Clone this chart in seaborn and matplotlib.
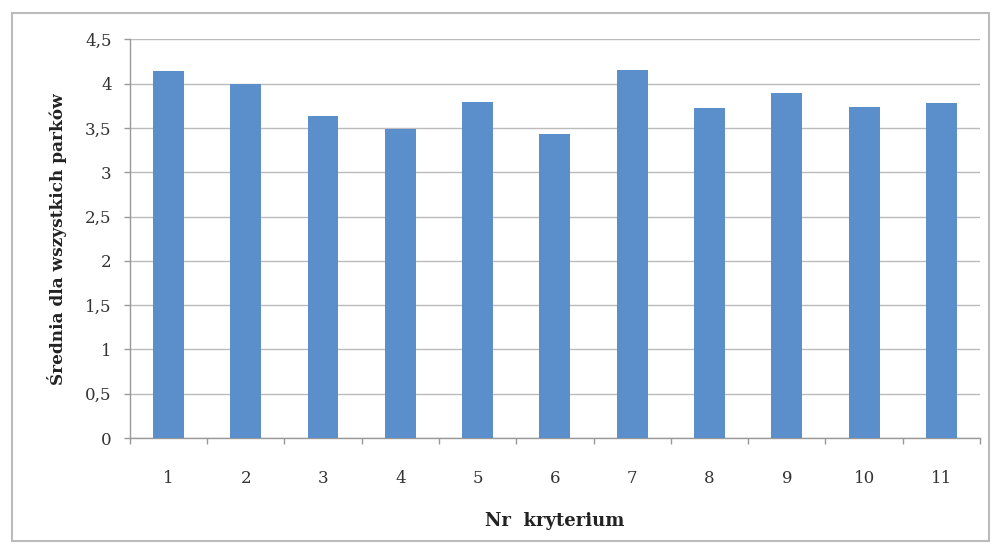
import matplotlib
matplotlib.use("Agg")
import matplotlib.pyplot as plt
import seaborn as sns
import pandas as pd
import numpy as np
from matplotlib.patches import Rectangle

categories = ["1", "2", "3", "4", "5", "6", "7", "8", "9", "10", "11"]
values = [4.14, 4.00, 3.63, 3.49, 3.79, 3.43, 4.15, 3.72, 3.90, 3.74, 3.78]
yticks = [0, 0.5, 1, 1.5, 2, 2.5, 3, 3.5, 4, 4.5]
ytick_labels = ["0", "0,5", "1", "1,5", "2", "2,5", "3", "3,5", "4", "4,5"]

sns.set_theme(style="white")
plt.rcParams['font.family'] = ['DejaVu Serif']

fig = plt.figure(figsize=(9.98, 5.48), dpi=100)
ax = fig.add_axes([0.130, 0.2007, 0.852, 0.7275])

df = pd.DataFrame({"kryterium": categories, "srednia": values})
sns.barplot(data=df, x="kryterium", y="srednia", color="#5B8FCB", width=0.4,
            saturation=1, linewidth=0, ax=ax, zorder=3)

ax.set_ylim(0, 4.5)
ax.set_xlim(-0.5, len(categories) - 0.5)
ax.set_yticks(yticks)
ax.set_yticklabels(ytick_labels, fontsize=12, color="#333333")
ax.tick_params(axis="x", which="major", labelsize=12, labelcolor="#333333",
               length=0, pad=23, bottom=True)
ax.set_xticks(np.arange(-0.5, len(categories), 1.0), minor=True)
ax.tick_params(axis="x", which="minor", length=4, color="#999999", width=1, bottom=True)
ax.tick_params(axis="y", length=4, color="#999999", width=1, left=True, pad=9)
ax.yaxis.grid(True, color="#BBBBBB", linewidth=1, zorder=0)
ax.set_axisbelow(True)
for s in ["top", "right"]:
    ax.spines[s].set_visible(False)
for s in ["left", "bottom"]:
    ax.spines[s].set_color("#999999")
    ax.spines[s].set_linewidth(1)

ax.set_xlabel("Nr  kryterium", fontsize=13, fontweight="bold", color="#222222", labelpad=18)
ax.set_ylabel("Średnia dla wszystkich parków", fontsize=12.2, fontweight="bold",
              color="#222222", labelpad=13)

fig.patches.append(Rectangle((0.012, 0.012), 0.979, 0.965, transform=fig.transFigure,
                             fill=False, edgecolor="#BBBBBB", linewidth=1.5))

fig.savefig("out.png", dpi=100)
